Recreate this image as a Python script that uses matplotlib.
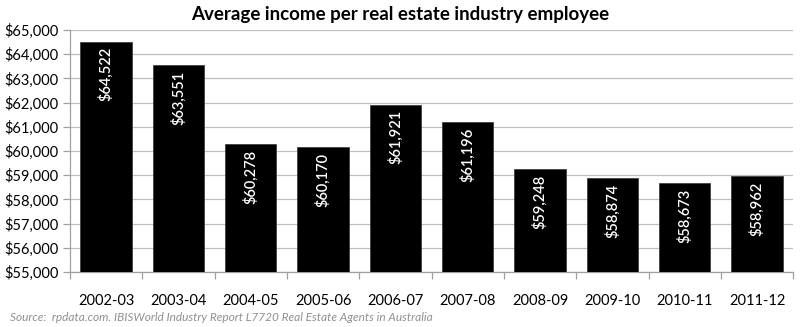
import matplotlib
matplotlib.use("Agg")
import matplotlib.pyplot as plt
from matplotlib.ticker import FuncFormatter, MultipleLocator

years = ["2002-03", "2003-04", "2004-05", "2005-06", "2006-07",
         "2007-08", "2008-09", "2009-10", "2010-11", "2011-12"]
income = [64522, 63551, 60278, 60170, 61921, 61196, 59248, 58874, 58673, 58962]

plt.rcParams['font.family'] = ['Lato', 'DejaVu Sans']

fig = plt.figure(figsize=(8.0, 3.27), dpi=100)
ax = fig.add_axes([0.0875, 0.168, 0.904, 0.74])

x = list(range(len(years)))
ax.bar(x, income, width=0.71, color="black", edgecolor="#404040", linewidth=0.6, zorder=3)

for xi, v in zip(x, income):
    ax.annotate(f"${v:,}", xy=(xi, v), xytext=(0, -4), textcoords="offset points",
                rotation=90, ha="center", va="top", color="white", fontsize=10.5,
                fontweight="semibold", zorder=4)

ax.set_ylim(55000, 65000)
ax.set_xlim(-0.5, len(years) - 0.5)
ax.yaxis.set_major_locator(MultipleLocator(1000))
ax.yaxis.set_major_formatter(FuncFormatter(lambda v, p: f"${v:,.0f}"))
ax.grid(axis="y", color="#bfbfbf", linewidth=0.9, zorder=0)

ax.set_xticks(x)
ax.set_xticklabels(years)
ax.set_xticks([i - 0.5 for i in range(len(years) + 1)], minor=True)
ax.tick_params(axis="x", which="major", length=0, pad=16, labelsize=10.5)
ax.tick_params(axis="x", which="minor", length=5, color="#a0a0a0", width=0.9)
ax.tick_params(axis="y", length=5, color="#a0a0a0", width=0.9, labelsize=10.5, pad=3)

for side in ("top", "right"):
    ax.spines[side].set_visible(False)
for side in ("left", "bottom"):
    ax.spines[side].set_color("#a0a0a0")
    ax.spines[side].set_linewidth(0.9)

fig.text(0.5, 0.955, "Average income per real estate industry employee",
         ha="center", va="center", fontsize=13.5, fontweight="bold")
fig.text(0.012, 0.03, "Source:  rpdata.com. IBISWorld Industry Report L7720 Real Estate Agents in Australia",
         ha="left", va="center", fontsize=8.6, style="italic", color="#909090")

fig.savefig("out.png", dpi=100)
